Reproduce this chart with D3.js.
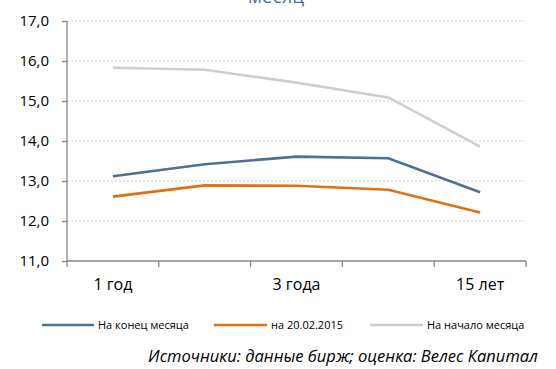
<!DOCTYPE html>
<html><head><meta charset="utf-8">
<script src="https://cdn.jsdelivr.net/npm/d3@7"></script>
<style>body{margin:0;background:#fff}svg{display:block}text{font-family:"Open Sans",sans-serif}</style>
</head><body>
<script>
const categories = ["1 год", "2 года", "3 года", "10 лет", "15 лет"];
const shownLabels = ["1 год", "3 года", "15 лет"];
const endOfMonth = [13.12, 13.42, 13.61, 13.57, 12.72];
const onDate = [12.61, 12.89, 12.88, 12.78, 12.21];
const startOfMonth = [15.83, 15.78, 15.46, 15.09, 13.86];
const seriesNames = ["На конец месяца", "на 20.02.2015", "На начало месяца"];
const yTicks = [11, 12, 13, 14, 15, 16, 17];
const titleText = "месяц";
const sourceText = "Источники: данные бирж; оценка: Велес Капитал";

const W = 556, H = 369;
const FF = "'Open Sans',sans-serif";
const svg = d3.select("body").append("svg").attr("width", W).attr("height", H);
const x = d3.scaleBand().domain(categories).range([67, 526]);
const y = d3.scaleLinear().domain([11, 17]).range([261, 21]);
const colors = ["#4e7193", "#e3700f", "#c9d1cd"];
const series = [endOfMonth, onDate, startOfMonth];

svg.append("text").attr("x", 276).attr("y", 3).attr("text-anchor", "middle")
  .attr("font-size", 19).attr("fill", "#4e7193").text(titleText);

// gridlines
svg.append("g").selectAll("line").data(yTicks.filter(d => d > 11)).join("line")
  .attr("x1", 67).attr("x2", 526).attr("y1", d => y(d)).attr("y2", d => y(d))
  .attr("stroke", "#cfcfcf").attr("stroke-dasharray", "2,2").attr("stroke-width", 1);

// y axis
const ya = svg.append("g").attr("transform", "translate(67,0)")
  .call(d3.axisLeft(y).tickValues(yTicks).tickSize(5).tickPadding(13).tickFormat(d => d.toFixed(1).replace(".", ",")));
ya.selectAll("path,line").attr("stroke", "#868686").attr("stroke-width", 1.3);
ya.select("path").attr("d", "M0,21V261");
ya.selectAll("text").attr("font-size", 15).attr("fill", "#000").attr("font-family", FF);

// x axis
const xa = svg.append("g").attr("transform", "translate(0,261)")
  .call(d3.axisBottom(x).tickSize(0).tickPadding(18).tickFormat(d => shownLabels.includes(d) ? d : ""));
xa.select("path").attr("stroke", "#868686").attr("stroke-width", 1.3).attr("d", "M67,0H526");
xa.selectAll("text").attr("font-size", 16).attr("fill", "#000").attr("font-family", FF);
const bounds = categories.map(c => x(c)).concat([x.range()[1]]);
svg.append("g").selectAll("line").data(bounds).join("line")
  .attr("x1", d => d).attr("x2", d => d).attr("y1", 261).attr("y2", 267)
  .attr("stroke", "#868686").attr("stroke-width", 1.3);

// lines
const line = d3.line().x((d, i) => x(categories[i]) + x.bandwidth() / 2).y(d => y(d));
[2, 0, 1].forEach(k => {
  svg.append("path").datum(series[k]).attr("d", line).attr("fill", "none")
    .attr("stroke", colors[k]).attr("stroke-width", 2.6);
});

// legend
const lg = [[42, 94, 98], [214, 267, 271], [370, 423, 427]];
seriesNames.forEach((n, k) => {
  svg.append("line").attr("x1", lg[k][0]).attr("x2", lg[k][1]).attr("y1", 325).attr("y2", 325)
    .attr("stroke", colors[k]).attr("stroke-width", 2.6);
  svg.append("text").attr("x", lg[k][2]).attr("y", 329).attr("font-size", 11).attr("fill", "#000").text(n);
});

svg.append("text").attr("x", 538).attr("y", 362).attr("text-anchor", "end")
  .attr("font-size", 16.5).attr("font-style", "italic").attr("fill", "#000").text(sourceText);
</script>
</body></html>
